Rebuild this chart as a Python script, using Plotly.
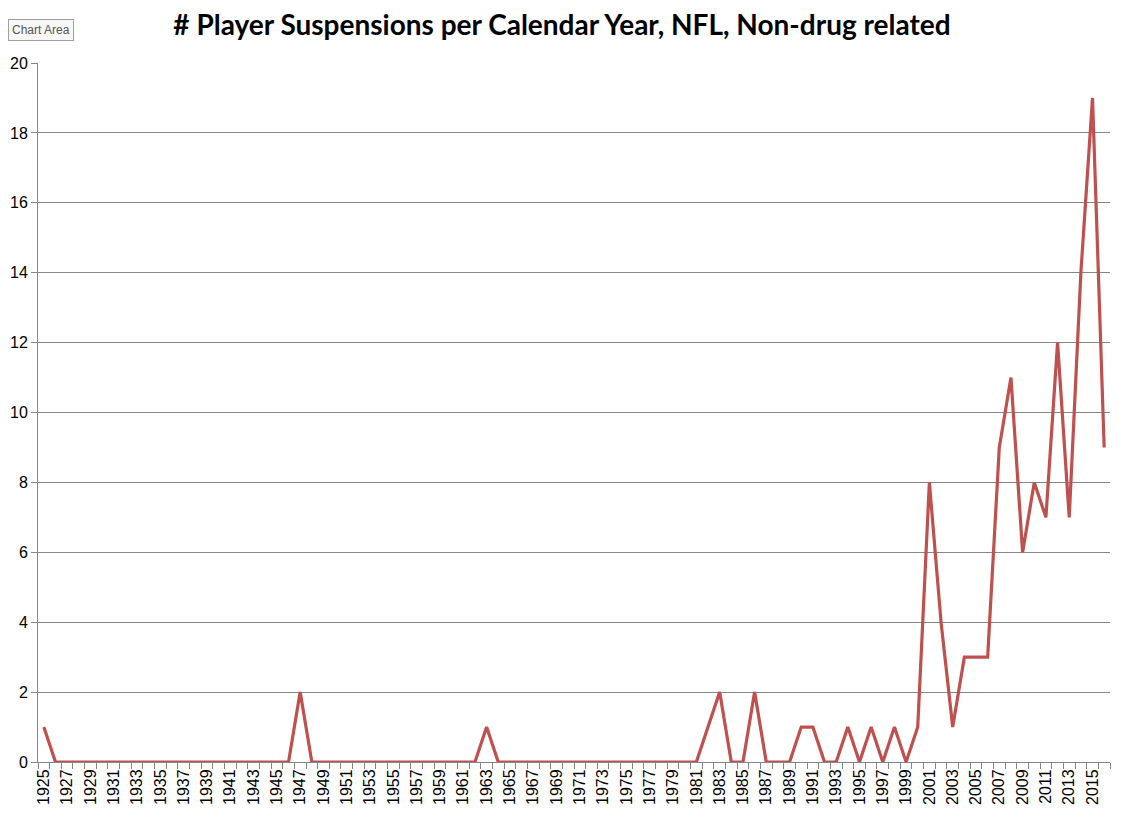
import plotly.graph_objects as go

years = list(range(1925, 2017))
suspensions = [
    1, 0, 0, 0, 0, 0, 0, 0, 0, 0,   # 1925-1934
    0, 0, 0, 0, 0, 0, 0, 0, 0, 0,   # 1935-1944
    0, 0, 2, 0, 0, 0, 0, 0, 0, 0,   # 1945-1954
    0, 0, 0, 0, 0, 0, 0, 0, 1, 0,   # 1955-1964
    0, 0, 0, 0, 0, 0, 0, 0, 0, 0,   # 1965-1974
    0, 0, 0, 0, 0, 0, 0, 1, 2, 0,   # 1975-1984
    0, 2, 0, 0, 0, 1, 1, 0, 0, 1,   # 1985-1994
    0, 1, 0, 1, 0, 1, 8, 4, 1, 3,   # 1995-2004
    3, 3, 9, 11, 6, 8, 7, 12, 7, 14,  # 2005-2014
    19, 9,                          # 2015-2016
]
tick_years = years[::2]

line_color = '#C0504D'
grid_color = '#868686'

fig = go.Figure()
fig.add_trace(go.Scatter(x=years, y=suspensions, mode='lines',
                         line=dict(color=line_color, width=3.2),
                         showlegend=False, hoverinfo='x+y'))

# page body has an 8px margin, so the figure is sized to fit the window
fig.update_layout(
    width=1108, height=799,
    margin=dict(l=30, r=6, t=55, b=45),
    paper_bgcolor='white', plot_bgcolor='white',
    font=dict(family='Lato, Open Sans, sans-serif', color='black'),
    title=dict(text='<b># Player Suspensions per Calendar Year, NFL, Non-drug related</b>',
               x=0.5, xanchor='center', y=0.978, yanchor='middle',
               font=dict(size=28, family='Lato, sans-serif', color='black')),
)

fig.update_xaxes(
    range=[1924.5, 2016.5], automargin=False,
    tickmode='array', tickvals=tick_years, ticktext=[str(y) for y in tick_years],
    tickangle=-90, tickfont=dict(size=16, family='Liberation Sans, sans-serif'),
    ticks='', showgrid=False, zeroline=False,
    showline=True, linecolor=grid_color, linewidth=1,
    minor=dict(ticks='outside', tick0=1924.5, dtick=1, ticklen=6,
               tickcolor=grid_color, showgrid=False),
)
fig.update_yaxes(
    range=[0, 20], dtick=2, tick0=0, automargin=False,
    tickfont=dict(size=16, family='Liberation Sans, sans-serif'),
    ticks='outside', ticklen=6, tickcolor=grid_color,
    showgrid=True, gridcolor=grid_color, gridwidth=1, zeroline=False,
    showline=True, linecolor=grid_color, linewidth=1,
)

fig.add_annotation(text='Chart Area', xref='paper', yref='paper',
                   x=-0.028, y=1.047, xanchor='left', yanchor='middle',
                   showarrow=False, font=dict(size=12, color='#555555',
                                              family='Liberation Sans, sans-serif'),
                   bgcolor='#F7F7F7', bordercolor='#A0A0A0', borderwidth=1,
                   borderpad=3)

fig.write_html('out.html')
